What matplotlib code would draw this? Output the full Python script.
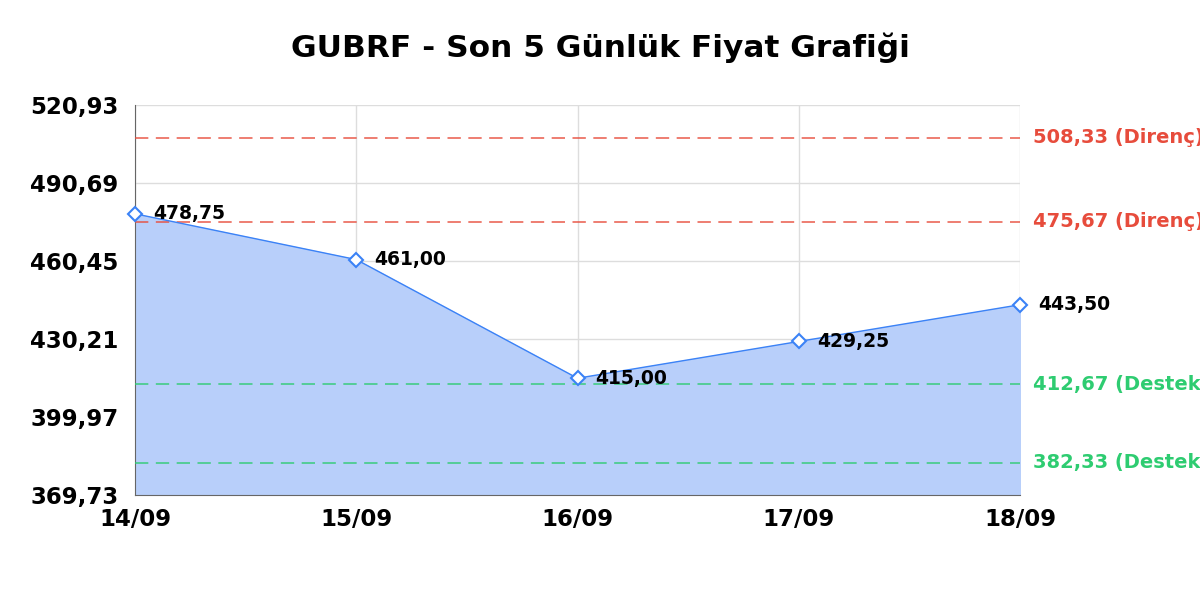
import matplotlib
matplotlib.use("Agg")
import matplotlib.pyplot as plt

# GUBRF son 5 gunluk fiyat verisi
dates = ["14/09", "15/09", "16/09", "17/09", "18/09"]
prices = [478.75, 461.00, 415.00, 429.25, 443.50]
resistance = [508.33, 475.67]
support = [412.67, 382.33]
y_ticks = [369.73, 399.97, 430.21, 460.45, 490.69, 520.93]

def tr_fmt(v):
    return f"{v:.2f}".replace(".", ",")

fig = plt.figure(figsize=(12, 6), dpi=100)
ax = fig.add_axes([0.1125, 0.175, 0.7375, 0.65])

x = list(range(len(dates)))
ax.fill_between(x, prices, y_ticks[0], color="#b8cffa", zorder=1)
ax.plot(x, prices, color="#3b82f6", linewidth=1, marker="D", markersize=7,
        markerfacecolor="white", markeredgecolor="#3b82f6", markeredgewidth=1.5,
        zorder=4, clip_on=False)

for xi, p in zip(x, prices):
    ax.annotate(tr_fmt(p), (xi, p), xytext=(13, 0), textcoords="offset points",
                va="center", ha="left", fontsize=13.5, fontweight="bold",
                color="black", zorder=5)

# destek / direnc seviyeleri (sag taraftaki yazilar resimdeki gibi kenarda kesiliyor)
for r in resistance:
    ax.axhline(r, color="#e74c3c", linestyle=(0, (8, 4.5)), linewidth=1.2, zorder=3, alpha=0.85)
    ax.text(1.0145, r, f"{tr_fmt(r)} (Direnç)", transform=ax.get_yaxis_transform(),
            va="center", ha="left", fontsize=14, fontweight="bold", color="#e74c3c")
for s in support:
    ax.axhline(s, color="#2ecc71", linestyle=(0, (8, 4.5)), linewidth=1.2, zorder=3, alpha=0.85)
    ax.text(1.0145, s, f"{tr_fmt(s)} (Destek)", transform=ax.get_yaxis_transform(),
            va="center", ha="left", fontsize=14, fontweight="bold", color="#2ecc71")

ax.set_xlim(0, len(dates) - 1)
ax.set_ylim(y_ticks[0], y_ticks[-1])
ax.set_xticks(x)
ax.set_xticklabels(dates, fontsize=16.5, fontweight="bold")
ax.set_yticks(y_ticks)
ax.set_yticklabels([tr_fmt(v) for v in y_ticks], fontsize=16.5, fontweight="bold")
ax.tick_params(axis="y", length=0, pad=12)
ax.tick_params(axis="x", length=0, pad=9)
ax.grid(True, color="#dddddd", linewidth=1, zorder=0)
ax.set_axisbelow(True)
for side in ["top", "right"]:
    ax.spines[side].set_visible(False)
for side in ["left", "bottom"]:
    ax.spines[side].set_color("#666666")

fig.suptitle("GUBRF - Son 5 Günlük Fiyat Grafiği", y=0.92, va="center",
             fontsize=22.5, fontweight="bold")

fig.savefig("out.png", dpi=100)
